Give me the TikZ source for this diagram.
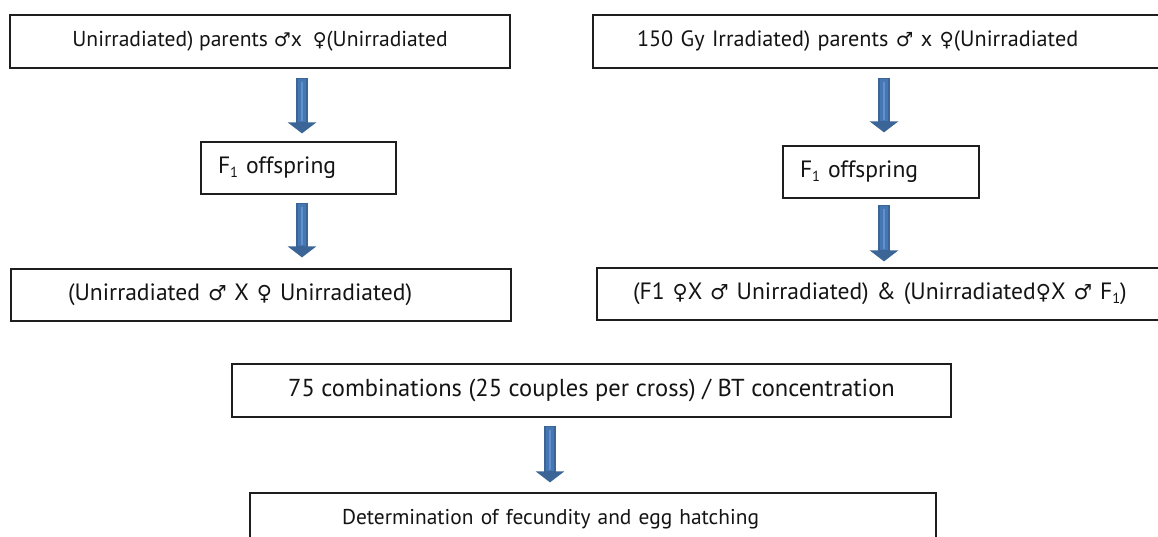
\documentclass[tikz,border=0pt]{standalone}
\usepackage{fontspec}
\setmainfont{PT Sans}
\newfontfamily\symfont{DejaVu Sans}
\usetikzlibrary{arrows.meta}
\definecolor{adark}{HTML}{3A6596}
\definecolor{amid}{HTML}{4677B3}
\definecolor{alight}{HTML}{5E91CE}
\definecolor{boxline}{HTML}{1E1E1E}
\newcommand\msym{{\symfont\scalebox{0.88}{♂}}}
\newcommand\fsym{{\symfont\scalebox{0.88}{♀}}}
\newcommand\subone{\raisebox{-0.3ex}{\scalebox{0.62}{1}}}
\newcommand\fs[1]{\fontsize{#1}{#1}\selectfont}
\tikzset{
  box/.style={draw=boxline, line width=1.2pt, minimum height=52, inner ysep=0pt,
    font=\fs{21}, text=black!92},
  fat/.style={draw=adark, line width=12pt, -{Triangle[width=28pt,length=11pt]},
    postaction={draw=amid, line width=8pt, -, shorten >=11pt, shorten <=1.5pt},
    postaction={draw=alight, line width=2.2pt, -, shorten >=12pt, shorten <=4pt}}
}
\begin{document}
\begin{tikzpicture}[x=1pt,y=-1pt]
\useasboundingbox (0,0) rectangle (1158,536);
\fill[white] (0,0) rectangle (1158,536);
% top row
\node[box, font=\fs{21.6}, minimum width=500, minimum height=53] (b1) at (260,41.5)
  {Unirradiated) parents \msym x\enspace\fsym(Unirradiated};
\node[box, font=\fs{22.2}, minimum width=600, minimum height=53, inner xsep=44, text width=512, align=left] (b2) at (893,41.5)
  {150 Gy Irradiated) parents \msym\ x \fsym(Unirradiated};
% F1 boxes
\node[box, font=\fs{23.6}, minimum width=195, inner xsep=17, text width=161, align=left] (f1l) at (298.5,168)
  {F\subone\ offspring};
\node[box, font=\fs{23.6}, minimum width=196, inner xsep=17, text width=162, align=left] (f1r) at (881,172)
  {F\subone\ offspring};
% crosses
\node[box, font=\fs{23.6}, minimum width=500, inner xsep=57, text width=386, align=left] (c1) at (261,295)
  {(Unirradiated \msym\ X \fsym\ Unirradiated)};
\node[box, font=\fs{23.6}, minimum width=620, inner xsep=36, text width=548, align=left] (c2) at (907,294)
  {(F1 \fsym X \msym\ Unirradiated) \& (Unirradiated\fsym X \msym\ F\subone)};
% bottom
\node[box, font=\fs{24.5}, minimum width=719, minimum height=53] (d1) at (591.5,390.5)
  {75 combinations (25 couples per cross) / BT concentration};
\node[box, font=\fs{21.4}, minimum width=686, inner xsep=92, text width=502, align=left] (d2) at (593,519)
  {Determination of fecundity and egg hatching};
% arrows
\coordinate (xl) at (302,0);
\coordinate (xr) at (884,0);
\coordinate (xm) at (550,0);
\draw[fat] ([yshift=-9]b1.south -| xl) -- ([yshift=8]f1l.north -| xl);
\draw[fat] ([yshift=-8]f1l.south -| xl) -- ([yshift=11]c1.north -| xl);
\draw[fat] ([yshift=-9]b2.south -| xr) -- ([yshift=13]f1r.north -| xr);
\draw[fat] ([yshift=-6]f1r.south -| xr) -- ([yshift=6]c2.north -| xr);
\draw[fat] ([yshift=-8]d1.south -| xm) -- ([yshift=10]d2.north -| xm);
\end{tikzpicture}
\end{document}
